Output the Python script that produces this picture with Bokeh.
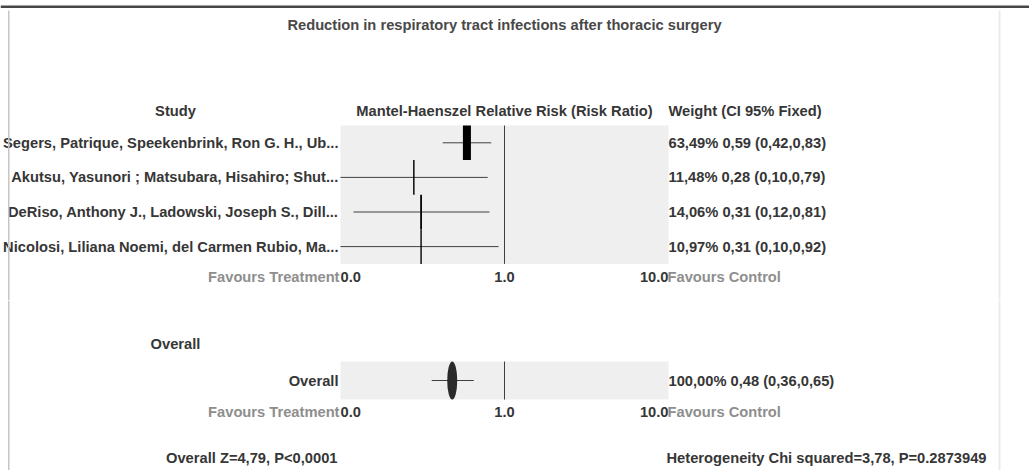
import math
from bokeh.plotting import figure
from bokeh.models import Range1d, Label, LabelSet, ColumnDataSource, BoxAnnotation
from bokeh.layouts import column
from bokeh.embed import file_html
from bokeh.resources import INLINE
from bokeh.core.properties import value

# ---------------- data ----------------
chart_title = "Reduction in respiratory tract infections after thoracic surgery"
studies = [
    "Segers, Patrique, Speekenbrink, Ron G. H., Ub...",
    "Akutsu, Yasunori ; Matsubara, Hisahiro; Shut...",
    "DeRiso, Anthony J., Ladowski, Joseph S., Dill...",
    "Nicolosi, Liliana Noemi, del Carmen Rubio, Ma...",
]
rr = [0.59, 0.28, 0.31, 0.31]
ci_lo = [0.42, 0.10, 0.12, 0.10]
ci_hi = [0.83, 0.79, 0.81, 0.92]
weights = [63.49, 11.48, 14.06, 10.97]

overall_label = ["Overall"]
overall_rr = [0.48]
overall_lo = [0.36]
overall_hi = [0.65]
overall_weight = [100.00]

tick_values = [0.1, 1.0, 10.0]
tick_labels = ["0.0", "1.0", "10.0"]
tick_aligns = ["left", "center", "right"]

col_headers = ["Study", "Mantel-Haenszel Relative Risk (Risk Ratio)", "Weight (CI 95% Fixed)"]
left_note = "Favours Treatment"
right_note = "Favours Control"
section_label = "Overall"
z_text = "Overall Z=4,79, P<0,0001"
het_text = "Heterogeneity Chi squared=3,78, P=0.2873949"

# ---------------- style / geometry ----------------
W = 1029
H_A, H_B = 300, 170
FONT = "Liberation Sans"
FS = "14.7px"
TXT = "#363636"
NOTE = "#8e8e8e"
PANEL = "#efefef"
LINE = "#404040"
BOX_PX_PER_PCT = 8 / 63.49
X0, X1 = 340, 668            # panel edges on the canvas (px)
DEC = (X1 - X0) / (math.log10(tick_values[-1]) - math.log10(tick_values[0]))
LOG0 = math.log10(tick_values[0])
X_START = 10 ** (LOG0 - X0 / DEC)
X_END = 10 ** (LOG0 + (W - X0) / DEC)


def fmt(v, nd=2):
    return f"{v:.{nd}f}".replace(".", ",")


def weight_text(w, r, lo, hi):
    return f"{fmt(w)}% {fmt(r)} ({fmt(lo)},{fmt(hi)})"


def base_fig(height, n_rows, panel_top, row_h):
    top_val = -0.5 - panel_top / row_h
    bot_val = -0.5 + (height - panel_top) / row_h
    p = figure(width=W, height=height, x_axis_type="log",
               x_range=Range1d(X_START, X_END),
               y_range=Range1d(bot_val, top_val),
               toolbar_location=None, output_backend="svg",
               x_axis_location=None, y_axis_location=None,
               min_border=0, min_border_left=0, min_border_right=0,
               min_border_top=0, min_border_bottom=0,
               background_fill_color="white", border_fill_color="white",
               outline_line_color=None)
    p.grid.visible = False
    # panel background spanning the axis limits and all rows
    p.quad(left=[tick_values[0]], right=[tick_values[-1]], top=[-0.5], bottom=[n_rows - 0.5],
           fill_color=PANEL, line_color=None)
    # line of no effect
    p.segment(x0=[1.0], x1=[1.0], y0=[-0.5], y1=[n_rows - 0.5], line_color=LINE, line_width=1)
    return p


def label(p, x, y, text, align="left", color=TXT, xu="canvas", yu="canvas"):
    p.add_layout(Label(x=x, y=y, x_units=xu, y_units=yu, text=text,
                       text_font=FONT, text_font_size=FS, text_font_style="bold",
                       text_color=color, text_align=align, text_baseline="middle"))


def axis_labels(p, y):
    for tv, tl, ta in zip(tick_values, tick_labels, tick_aligns):
        label(p, tv, y, tl, align=ta, xu="data")
    label(p, X0 - 1, y, left_note, align="right", color=NOTE)
    label(p, X1 - 1, y, right_note, align="left", color=NOTE)


def box(p, l, r, t, b, color):
    p.add_layout(BoxAnnotation(left=l, right=r, top=t, bottom=b,
                               left_units="canvas", right_units="canvas",
                               top_units="canvas", bottom_units="canvas",
                               fill_color=color, fill_alpha=1, line_color=None, level="overlay"))


def borders(p, height, top):
    box(p, 7.5, 9, top, height, "#c6c6c6")
    box(p, 998, 1000, top, height, "#ebebeb")


def row_labels(p, src, field_left, field_right):
    p.add_layout(LabelSet(x=338, y="row", x_units="canvas", y_units="data", text=field_left, source=src,
                          text_font=value(FONT), text_font_size=FS, text_font_style="bold",
                          text_color=TXT, text_align="right", text_baseline="middle"))
    p.add_layout(LabelSet(x=668, y="row", x_units="canvas", y_units="data", text=field_right, source=src,
                          text_font=value(FONT), text_font_size=FS, text_font_style="bold",
                          text_color=TXT, text_align="left", text_baseline="middle"))


# ---------------- upper panel ----------------
n = len(studies)
src = ColumnDataSource(dict(
    study=studies, row=list(range(n)), rr=rr, lo=ci_lo, hi=ci_hi,
    wpx=[w * BOX_PX_PER_PCT for w in weights],
    wtext=[weight_text(w, r, a, b) for w, r, a, b in zip(weights, rr, ci_lo, ci_hi)],
))

pA = base_fig(H_A, n, 125, 34.6)
pA.segment(x0="lo", y0="row", x1="hi", y1="row", source=src, line_color=LINE, line_width=1)
pA.rect(x="rr", y="row", width="wpx", height=1, width_units="screen", source=src,
        fill_color="black", line_color=None)
row_labels(pA, src, "study", "wtext")

label(pA, 504, 24, chart_title, align="center", color="#484848")
label(pA, 175, 110, col_headers[0], align="center")
label(pA, 504, 110, col_headers[1], align="center")
label(pA, 668, 110, col_headers[2], align="left")
axis_labels(pA, 276)

box(pA, 0, W, 5, 7.5, "#474747")
borders(pA, H_A, 10)

# ---------------- lower panel ----------------
osrc = ColumnDataSource(dict(
    label=overall_label, row=[0], rr=overall_rr, lo=overall_lo, hi=overall_hi,
    wtext=[weight_text(w, r, a, b) for w, r, a, b in zip(overall_weight, overall_rr, overall_lo, overall_hi)],
))

pB = base_fig(H_B, 1, 61, 38)
pB.segment(x0="lo", y0="row", x1="hi", y1="row", source=osrc, line_color=LINE, line_width=1)
pB.ellipse(x="rr", y="row", width=10, height=1, width_units="screen", source=osrc,
           fill_color="#2a2a2a", line_color=None)
row_labels(pB, osrc, "label", "wtext")

label(pB, 175, 43, section_label, align="center")
axis_labels(pB, 111)
label(pB, 337, 157, z_text, align="right")
label(pB, 666, 157, het_text, align="left")
borders(pB, H_B, 0)

root = column(pA, pB, spacing=0)

open("out.html", "w").write(file_html(root, INLINE))
